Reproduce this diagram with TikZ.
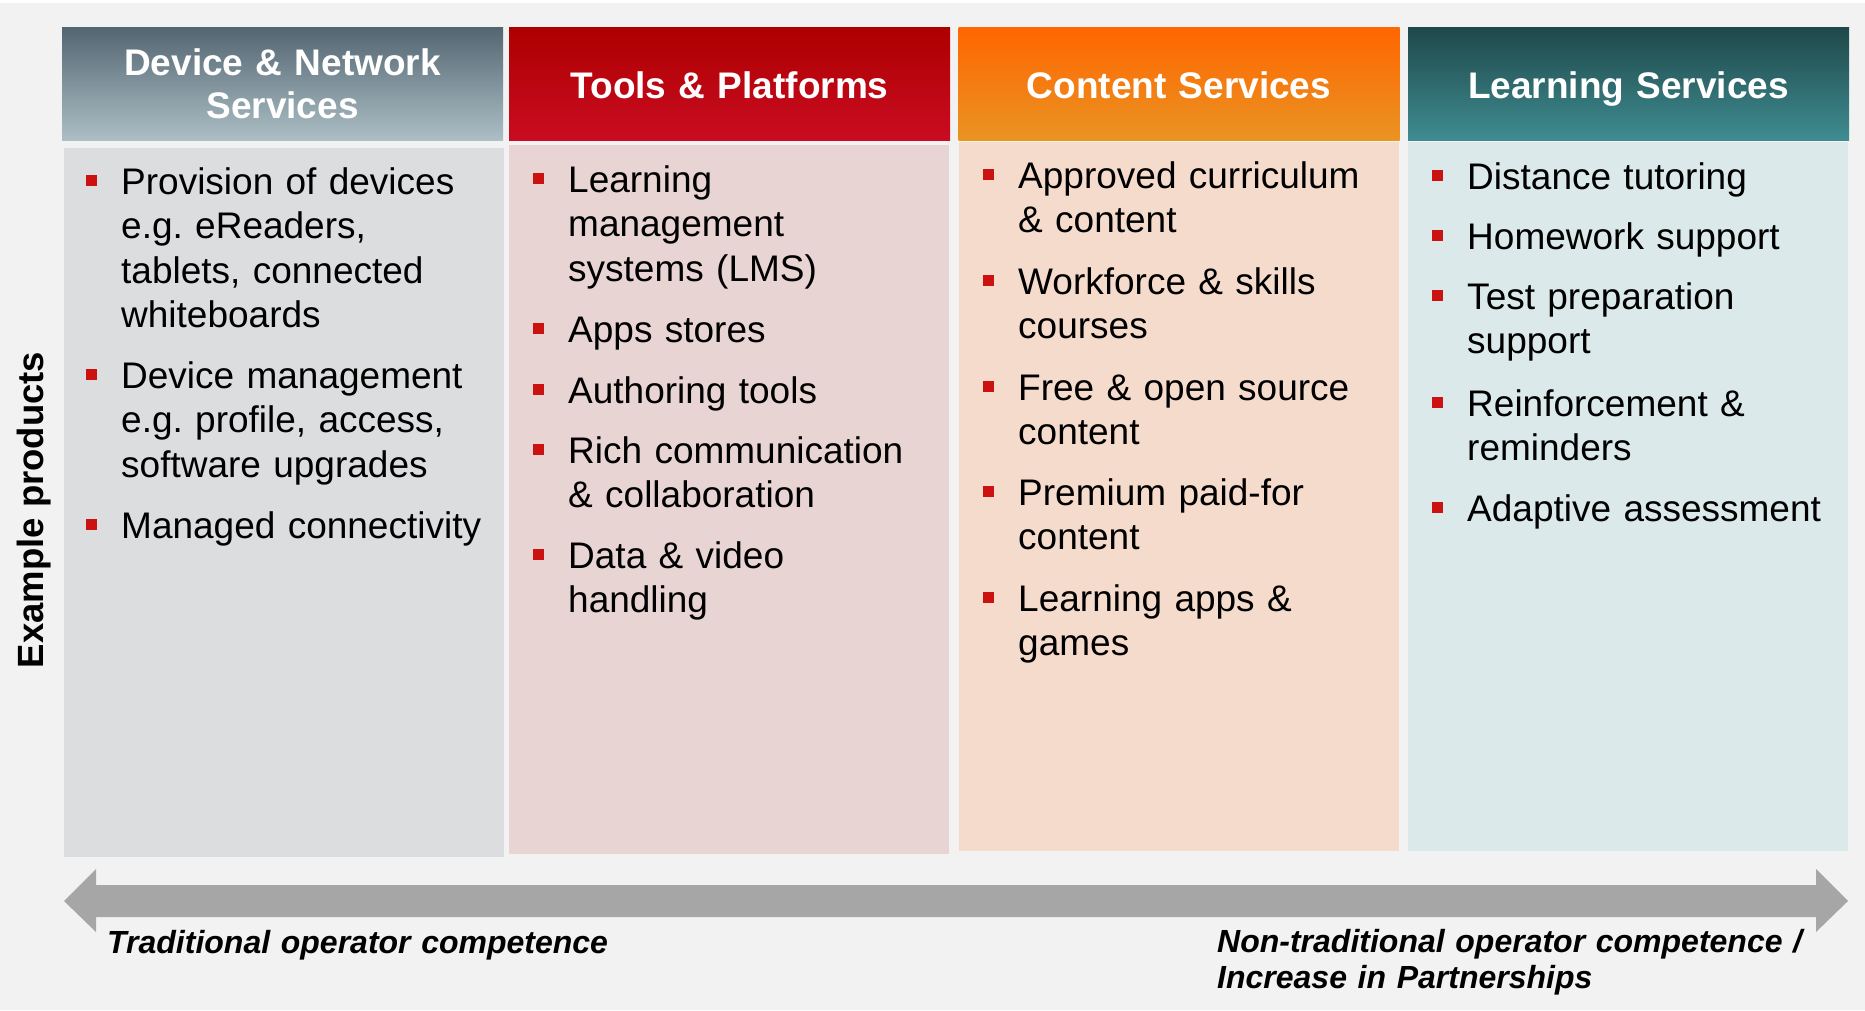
\documentclass[tikz,border=0pt]{standalone}
\usepackage{fontspec}
\setmainfont{Liberation Sans}
\frenchspacing

\definecolor{pagebg}{HTML}{F2F2F2}
\definecolor{bulletred}{HTML}{CC1111}
\definecolor{arrowgrey}{HTML}{A6A6A6}
\definecolor{devtop}{HTML}{536571}
\definecolor{devbot}{HTML}{ADBFC5}
\definecolor{devbody}{HTML}{DCDDDF}
\definecolor{tooltop}{HTML}{AE0000}
\definecolor{toolbot}{HTML}{C90C22}
\definecolor{toolbody}{HTML}{E9D4D4}
\definecolor{conttop}{HTML}{FF6600}
\definecolor{contbot}{HTML}{E99323}
\definecolor{contbody}{HTML}{F5DBCC}
\definecolor{learntop}{HTML}{1F4849}
\definecolor{learnbot}{HTML}{3F8C92}
\definecolor{learnbody}{HTML}{DBE9EA}

\newcommand\bul{\leavevmode\llap{\textcolor{bulletred}{\rule[8.5pt]{11pt}{11pt}}\hspace{24.5pt}}}

\begin{document}
\begin{tikzpicture}[x=1pt,y=-1pt,
  head/.style={inner sep=0pt,minimum width=441pt,minimum height=113pt,text width=441pt,align=center,
               text=white,font=\fontsize{37}{43}\selectfont\bfseries,text height=29pt,text depth=0pt},
  body/.style={anchor=north west,inner sep=0pt,minimum width=440pt,minimum height=709pt},
  prod/.style={anchor=base west,inner sep=0pt,text width=390pt,align=left,font=\fontsize{37}{44.5}\selectfont},
  note/.style={anchor=base west,inner sep=0pt,text width=640pt,align=left,font=\fontsize{32}{36}\selectfont\bfseries\itshape}]

\fill[pagebg] (0,0) rectangle (1865,1010);
\fill[white]  (0,0) rectangle (1865,3);

\node[head,top color=devtop,  bottom color=devbot,  text height=13pt,text depth=30pt]
                    (hdev)   at ( 282.5,83.5) {Device \& Network\\Services};
\node[head,top color=tooltop, bottom color=toolbot ] (htool)  at ( 729.5,83.5) {Tools \& Platforms};
\node[head,top color=conttop, bottom color=contbot ] (hcont)  at (1179.0,83.5) {Content Services};
\node[head,top color=learntop,bottom color=learnbot] (hlearn) at (1628.5,83.5) {Learning Services};

\node[body,fill=devbody  ] (bdev)   at (  64,148) {};
\node[body,fill=toolbody ] (btool)  at ( 509,145) {};
\node[body,fill=contbody ] (bcont)  at ( 959,142) {};
\node[body,fill=learnbody] (blearn) at (1408,142) {};

\node[rotate=90,anchor=base,inner sep=0pt,font=\fontsize{36.5}{40}\selectfont\bfseries] (axis) at (43,510) {Example products};

\node[prod] (dev1)   at ( 121,194) {\bul Provision of devices\\e.g. eReaders,\\tablets, connected\\whiteboards};
\node[prod] (dev2)   at ( 121,388) {\bul Device management\\e.g. profile, access,\\software upgrades};
\node[prod] (dev3)   at ( 121,538) {\bul Managed connectivity};

\node[prod] (tool1)  at ( 568,192) {\bul Learning\\management\\systems (LMS)};
\node[prod] (tool2)  at ( 568,342) {\bul Apps stores};
\node[prod] (tool3)  at ( 568,403) {\bul Authoring tools};
\node[prod] (tool4)  at ( 568,463) {\bul Rich communication\\\& collaboration};
\node[prod] (tool5)  at ( 568,568) {\bul Data \& video\\handling};

\node[prod] (cont1)  at (1018,188) {\bul Approved curriculum\\\& content};
\node[prod] (cont2)  at (1018,294) {\bul Workforce \& skills\\courses};
\node[prod] (cont3)  at (1018,400) {\bul Free \& open source\\content};
\node[prod] (cont4)  at (1018,505) {\bul Premium paid-for\\content};
\node[prod] (cont5)  at (1018,611) {\bul Learning apps \&\\games};

\node[prod] (learn1) at (1467,189) {\bul Distance tutoring};
\node[prod] (learn2) at (1467,249) {\bul Homework support};
\node[prod] (learn3) at (1467,309) {\bul Test preparation\\support};
\node[prod] (learn4) at (1467,416) {\bul Reinforcement \&\\reminders};
\node[prod] (learn5) at (1467,521) {\bul Adaptive assessment};

\fill[arrowgrey] (64,901) -- (96,869) -- (96,885) -- (1816,885) -- (1816,869) -- (1848,901)
                 -- (1816,932) -- (1816,917) -- (96,917) -- (96,932) -- cycle;

\node[note] (trad)    at ( 107,953) {Traditional operator competence};
\node[note] (nontrad) at (1217,952) {Non-traditional operator competence /\\Increase in Partnerships};
\end{tikzpicture}
\end{document}
